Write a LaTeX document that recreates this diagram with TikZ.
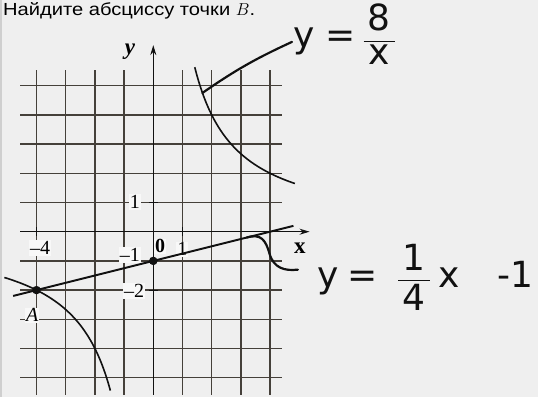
\documentclass[tikz,border=0pt]{standalone}
\usepackage{fontspec}
\usepackage{amsmath}
\usetikzlibrary{arrows.meta, positioning, calc}
\setmainfont{Liberation Sans}
\newfontfamily\titlefont[FakeStretch=1.15]{Liberation Sans}
\newfontfamily\axisfont{Liberation Serif}
\newfontfamily\handfont{DejaVu Sans}
\definecolor{PageBg}{HTML}{EFEFEF}
\definecolor{EdgeGray}{HTML}{CFCFCF}
\definecolor{GridDark}{HTML}{45403A}
\definecolor{LabelBg}{HTML}{F8F8F8}
\definecolor{Ink}{HTML}{111111}

\begin{document}
\begin{tikzpicture}[
    x=29.2pt, y=29.2pt,
    gridline/.style={draw=GridDark, line width=1.3pt},
    axis/.style={draw=Ink, line width=1.1pt, -{Stealth[length=10pt, width=6pt]}},
    curve/.style={draw=Ink, line width=1.6pt, smooth},
    tickmark/.style={draw=Ink, line width=1.1pt},
    dot/.style={circle, fill=Ink, inner sep=0pt, minimum size=8.5pt},
    lbl/.style={font=\axisfont\fontsize{20}{20}\selectfont, fill=LabelBg, inner sep=1pt},
    hand/.style={font=\handfont\fontsize{36}{36}\selectfont, inner sep=0pt, text=Ink},
    pointer/.style={draw=Ink, line width=2.2pt, line cap=round}
]

% =============================================
% Page
% =============================================
\fill[PageBg] (-5.25,-5.661) rectangle (13.175,7.935);
\useasboundingbox (-5.25,-5.661) rectangle (13.175,7.935);
\draw[EdgeGray, line width=2pt] (-5.215,-5.661) -- (-5.215,7.935);

\node[anchor=base west, inner sep=0pt, font=\titlefont\fontsize{17.5}{21}\selectfont]
    (title) at (-5.15,7.4) {Найдите абсциссу точки $B$.};

% =============================================
% Grid and axes
% =============================================
\foreach \gx in {-4,...,4}
    \draw[gridline] (\gx,-5.59) -- (\gx,5.54);
\foreach \gy in {-5,...,5}
    \draw[gridline] (-4.56,\gy) -- (4.41,\gy);

\draw[axis] (-4.56,0) -- (5.35,0);
\draw[axis] (0,-5.59) -- (0,6.39);

\node[font=\axisfont\bfseries\itshape\fontsize{23}{23}\selectfont] (ylab) at (-0.8,6.15) {y};
\node[font=\axisfont\bfseries\fontsize{23}{23}\selectfont] (xlab) at (5.02,-0.56) {x};

% ticks
\foreach \tx in {-4,1}
    \draw[tickmark] (\tx,-0.15) -- (\tx,0.15);
\foreach \ty in {1,-2}
    \draw[tickmark] (-0.15,\ty) -- (0.15,\ty);

% =============================================
% Axis labels
% =============================================
\node[lbl] (one y) at (-0.63,1.02) {1};
\node[lbl] (m four) at (-3.88,-0.56) {–4};
\node[lbl, font=\axisfont\bfseries\fontsize{20}{20}\selectfont] (zero) at (0.23,-0.5) {0};
\node[lbl] (one x) at (1.0,-0.6) {1};
\node[lbl] (m one) at (-0.8,-0.8) {–1};
\node[lbl] (m two) at (-0.66,-2.03) {–2};

% =============================================
% Graphs
% =============================================
\draw[curve, domain=1.42:4.85, samples=60] plot (\x,{8/\x});
\draw[curve, domain=-5.1:-1.47, samples=60] plot (\x,{8/\x});
\draw[Ink, line width=1.9pt] (-4.8,{-4.8/4-1}) -- (4.8,{4.8/4-1});

\node[dot] (ptA) at (-4,-2) {};
\node[dot] (ptC) at (0,-1) {};
\node[lbl, font=\axisfont\itshape\fontsize{20}{20}\selectfont] (labA) at (-4.15,-2.86) {A};

% =============================================
% Handwritten notes
% =============================================
\node[hand, anchor=base west] (hyp) at (4.78,6.3)
    {y\hspace{0.3em}=\hspace{0.2em}$\dfrac{\,\text{8}\,}{\text{x}}$};
\node[hand, anchor=base west] (lin) at (5.6,-1.9)
    {y\hspace{0.25em}=\hspace{0.55em}$\dfrac{\,\text{1}\,}{\text{4}}$\hspace{0.2em}x\hspace{1.05em}-1};

\coordinate (hypPt) at (1.68,4.75);
\coordinate (hypEnd) at (4.75,6.5);
\draw[pointer] (hypPt) to[bend left=5] (hypEnd);

\coordinate (linPt) at (3.2,-0.2);
\coordinate (linEnd) at (4.95,-1.3);
\draw[pointer] (linPt) .. controls (3.7,-0.05) and (3.85,-0.3) .. (3.98,-0.75)
    .. controls (4.12,-1.25) and (4.5,-1.35) .. (linEnd);

\end{tikzpicture}
\end{document}
